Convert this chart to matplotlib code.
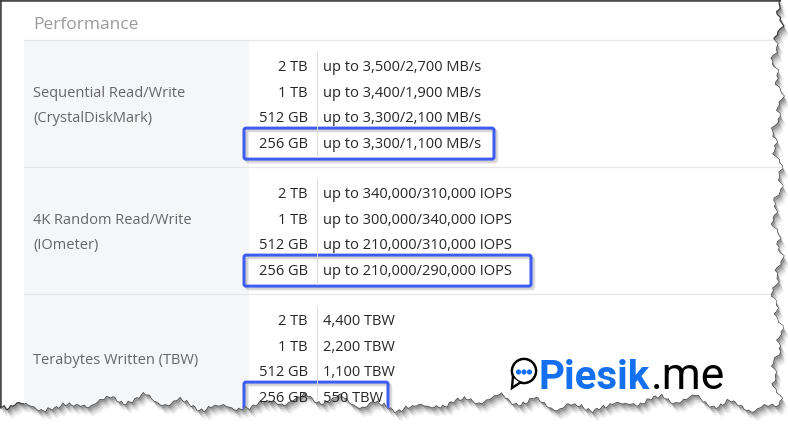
import numpy as np
import matplotlib
matplotlib.use("Agg")
import matplotlib.pyplot as plt
from matplotlib.patches import Polygon, Rectangle, FancyBboxPatch, Circle

plt.rcParams['font.family'] = ['Open Sans', 'DejaVu Sans']

TITLE = "Performance"
SECTIONS = [["Sequential Read/Write", "(CrystalDiskMark)"],
            ["4K Random Read/Write", "(IOmeter)"],
            ["Terabytes Written (TBW)"]]
CAPACITIES = ["2 TB", "1 TB", "512 GB", "256 GB"]
SEQ_RW = ["up to 3,500/2,700 MB/s", "up to 3,400/1,900 MB/s",
          "up to 3,300/2,100 MB/s", "up to 3,300/1,100 MB/s"]
RANDOM_RW = ["up to 340,000/310,000 IOPS", "up to 300,000/340,000 IOPS",
             "up to 210,000/310,000 IOPS", "up to 210,000/290,000 IOPS"]
TBW = ["4,400 TBW", "2,200 TBW", "1,100 TBW", "550 TBW"]
VALUES = [SEQ_RW, RANDOM_RW, TBW]
HIGHLIGHT = "256 GB"

W, H = 788, 433
PX = 0.72  # one pixel in points at dpi 100

fig = plt.figure(figsize=(W / 100, H / 100), dpi=100)
ax = fig.add_axes([0, 0, 1, 1])
ax.set_xlim(0, W)
ax.set_ylim(H, 0)
ax.axis("off")

# torn page outline (decoration only)
ry = np.linspace(0, 404, 140)
rx = 777 + 3.5 * np.sin(ry * 0.08) + 2.5 * np.sin(ry * 0.27 + 1) + 1.5 * np.sin(ry * 0.71 + 2)
bx = np.linspace(rx[-1], 0, 360)
by = (403 + 4.5 * np.sin(bx * 0.035) + 3.5 * np.sin(bx * 0.16 + 0.5)
      + 3 * np.abs(np.sin(bx * 0.43 + 1.3)) - 3 * np.abs(np.sin(bx * 0.097)) ** 6
      - 1.5 * np.abs(np.sin(bx * 0.97)))
edge = np.vstack([[0, 0]] + [[rx[0], 0]] + list(zip(rx, ry)) + list(zip(bx, by)) + [[0, by[-1]]])

for off, a in [(9, 0.08), (7, 0.12), (5, 0.2), (3, 0.3)]:
    ax.add_patch(Polygon(edge + [off * 0.6, off], closed=True, color="#444444",
                         alpha=a, lw=0))
page = Polygon(edge, closed=True, facecolor="white", edgecolor="#3a3a3a", lw=0.9)
ax.add_patch(page)

def clip(artist):
    artist.set_clip_path(page)
    return artist

# title
ax.text(33, 29, TITLE, fontsize=12.5, color="#9a9a9a", va="baseline", ha="left")

# table
table_left, label_right, table_right = 24, 249, 790
cap_x, sep_x, val_x = 308, 317, 323
box_left = 244
box_right = [494, 531, 388]
section_h = 127
row_gap = 25.7
fs = 10.5
tops = [40 + i * section_h for i in range(len(SECTIONS))]

for top, label, vals, bright in zip(tops, SECTIONS, VALUES, box_right):
    clip(ax.add_patch(Rectangle((table_left, top), label_right - table_left, section_h + 40,
                                facecolor="#f5f6f8", lw=0)))
    clip(ax.add_patch(Rectangle((label_right, top), table_right - label_right, section_h + 40,
                                facecolor="white", lw=0)))
    clip(ax.plot([table_left, table_right], [top, top], color="#e6e6e6", lw=1.2 * PX)[0])
    clip(ax.plot([sep_x, sep_x], [top + 12, top + 117], color="#dddddd", lw=1 * PX)[0])

    rows = [top + 26 + row_gap * i for i in range(len(CAPACITIES))]
    mid = np.mean(rows)
    for j, line in enumerate(label):
        ly = mid + (j - (len(label) - 1) / 2) * row_gap
        clip(ax.text(33, ly + 5, line, fontsize=fs, color="#666666",
                     va="baseline", ha="left"))
    for cap, val, ry_ in zip(CAPACITIES, vals, rows):
        clip(ax.text(cap_x, ry_ + 5, cap, fontsize=fs, color="#262626",
                     va="baseline", ha="right"))
        clip(ax.text(val_x, ry_ + 5, val, fontsize=fs, color="#262626",
                     va="baseline", ha="left"))
        if cap == HIGHLIGHT:
            for off, a in [(3, 0.10), (2, 0.15)]:
                clip(ax.add_patch(FancyBboxPatch((box_left + off, ry_ - 15 + off),
                                                 bright - box_left, 31,
                                                 boxstyle="round,pad=0,rounding_size=2",
                                                 fill=False, edgecolor="#444444",
                                                 alpha=a, lw=3 * PX)))
            clip(ax.add_patch(FancyBboxPatch((box_left, ry_ - 15), bright - box_left, 31,
                                             boxstyle="round,pad=0,rounding_size=2",
                                             fill=False, edgecolor="#3f5cf0", lw=3 * PX)))

# border lines of the screenshot
ax.plot([1, 1], [0, by[-1]], color="#3a3a3a", lw=1.5 * PX)
ax.plot([0, rx[0]], [1, 1], color="#3a3a3a", lw=1.5 * PX)

# watermark logo
ax.add_patch(Circle((524, 371), 12, fill=False, edgecolor="black", lw=2.6 * PX))
ax.add_patch(Polygon([[513, 376], [512, 388], [521, 382]], closed=True,
                     facecolor="white", edgecolor="black", lw=2.4 * PX, zorder=3))
ax.add_patch(Circle((524, 371), 10.6, facecolor="white", lw=0, zorder=4))
for dx in (-5.5, 0, 5.5):
    ax.add_patch(Circle((524 + dx, 372), 1.9, color="#1570ef", zorder=5))
logo = ax.text(539, 389, "Piesik", fontsize=29, fontweight="bold", color="#1570ef",
               family=["Roboto", "DejaVu Sans"], va="baseline", ha="left")
fig.canvas.draw()
lb = logo.get_window_extent()
ax.text(ax.transData.inverted().transform((lb.x1, 0))[0] + 1, 389, ".me", fontsize=32,
        color="black", family=["Roboto", "DejaVu Sans"], va="baseline", ha="left")

fig.savefig("out.png", dpi=100)
